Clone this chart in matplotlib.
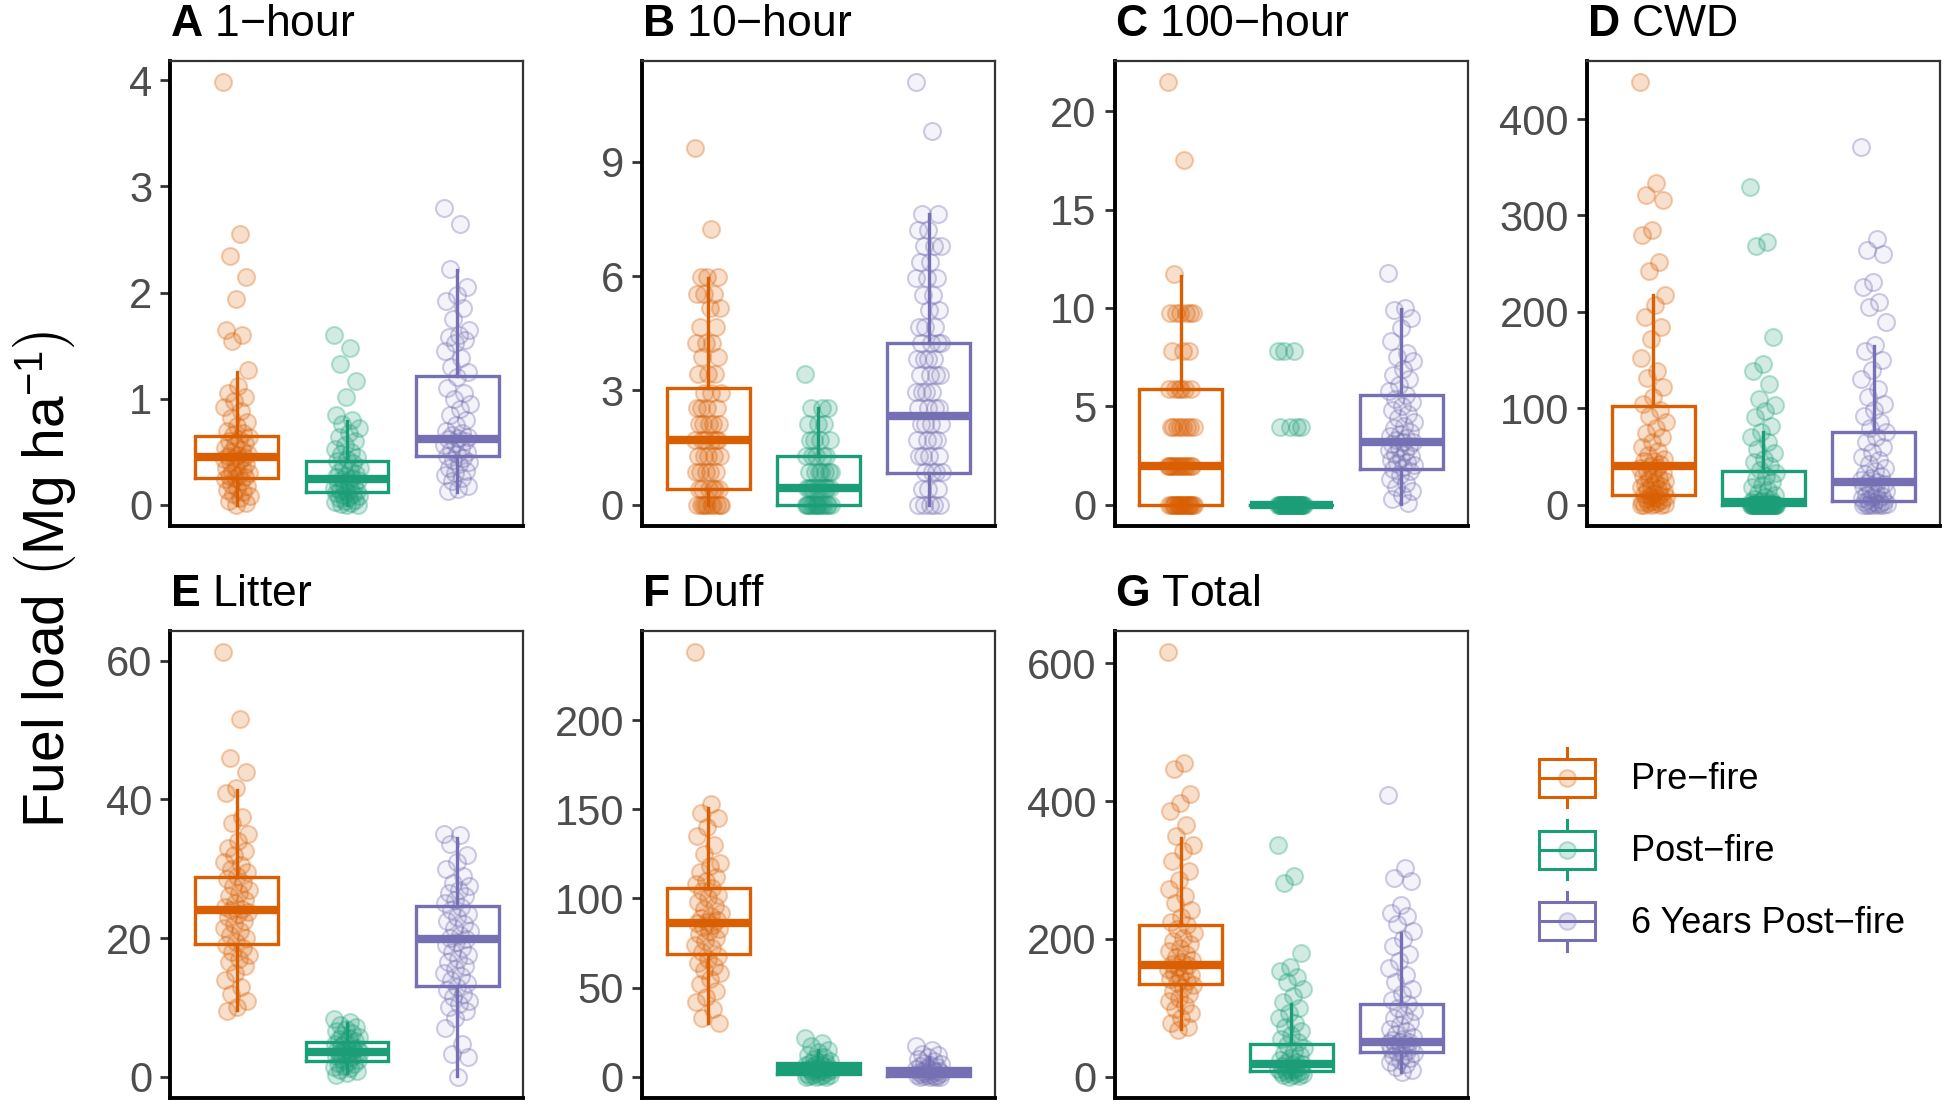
import matplotlib
matplotlib.use("Agg")
import matplotlib.pyplot as plt
import numpy as np
from matplotlib.legend_handler import HandlerBase
from matplotlib.patches import Patch, Rectangle
from matplotlib.lines import Line2D

# groups / colours
groups = ["Pre−fire", "Post−fire", "6 Years Post−fire"]
colors = ["#D95F02", "#1B9E77", "#7570B3"]

panel_letters = ["A", "B", "C", "D", "E", "F", "G"]
panel_names = ["1−hour", "10−hour", "100−hour", "CWD", "Litter", "Duff", "Total"]
panel_ticks = [[0, 1, 2, 3, 4], [0, 3, 6, 9], [0, 5, 10, 15, 20], [0, 100, 200, 300, 400],
               [0, 20, 40, 60], [0, 50, 100, 150, 200], [0, 200, 400, 600]]

# box stats per group: [whisker low, q1, median, q3, whisker high]
box_1h = [[0.0, 0.25, 0.45, 0.65, 1.25], [0.0, 0.12, 0.24, 0.41, 0.79], [0.12, 0.46, 0.62, 1.21, 2.21]]
box_10h = [[0.0, 0.42, 1.69, 3.07, 5.94], [0.0, 0.0, 0.43, 1.29, 2.55], [0.0, 0.83, 2.33, 4.24, 7.63]]
box_100h = [[0.0, 0.0, 1.95, 5.86, 11.6], [0.0, 0.0, 0.0, 0.0, 0.0], [0.06, 1.83, 3.17, 5.56, 9.95]]
box_cwd = [[0.0, 10.5, 40.0, 102.0, 217.5], [0.0, 0.0, 3.0, 34.6, 76.0], [0.0, 3.6, 24.0, 75.8, 165.0]]
box_litter = [[9.6, 19.2, 24.0, 28.8, 41.3], [0.5, 2.3, 3.6, 5.0, 7.8], [0.1, 13.1, 19.8, 24.6, 34.4]]
box_duff = [[30.0, 68.7, 86.5, 106.0, 150.7], [0.0, 1.4, 4.6, 7.7, 15.0], [0.0, 0.3, 2.9, 4.8, 11.0]]
box_total = [[70.0, 134.0, 162.0, 221.0, 347.0], [0.0, 8.7, 19.3, 47.3, 105.0], [7.0, 36.7, 51.0, 105.0, 209.0]]

# plot-level values (read from the jittered points)
one_hr_pre = [3.98, 2.55, 2.34, 2.15, 1.94, 1.65, 1.60, 1.54, 1.27, 1.12, 1.05, 1.02, 0.98, 0.92, 0.88,
              0.82, 0.78, 0.74, 0.70, 0.68, 0.66, 0.64, 0.62, 0.60, 0.58, 0.56, 0.54, 0.52, 0.50, 0.48,
              0.47, 0.46, 0.45, 0.44, 0.43, 0.42, 0.40, 0.38, 0.36, 0.35, 0.33, 0.31, 0.30, 0.28, 0.27,
              0.26, 0.25, 0.24, 0.22, 0.20, 0.18, 0.16, 0.14, 0.12, 0.10, 0.08, 0.06, 0.04, 0.02, 0.0]
one_hr_post = [1.60, 1.48, 1.33, 1.17, 1.02, 0.85, 0.80, 0.76, 0.72, 0.68, 0.64, 0.60, 0.56, 0.53, 0.50,
               0.48, 0.45, 0.43, 0.41, 0.39, 0.37, 0.35, 0.33, 0.31, 0.29, 0.27, 0.26, 0.25, 0.24, 0.23,
               0.22, 0.20, 0.19, 0.18, 0.16, 0.15, 0.14, 0.13, 0.12, 0.11, 0.10, 0.09, 0.08, 0.07, 0.06,
               0.05, 0.04, 0.03, 0.02, 0.01, 0.0, 0.0]
one_hr_6yr = [2.80, 2.65, 2.22, 2.05, 1.98, 1.92, 1.85, 1.75, 1.65, 1.60, 1.58, 1.55, 1.52, 1.45, 1.38,
              1.30, 1.25, 1.20, 1.10, 1.05, 1.00, 0.95, 0.90, 0.85, 0.80, 0.75, 0.70, 0.68, 0.66, 0.64,
              0.63, 0.62, 0.60, 0.58, 0.56, 0.54, 0.52, 0.50, 0.48, 0.46, 0.44, 0.42, 0.40, 0.38, 0.35,
              0.32, 0.30, 0.28, 0.25, 0.22, 0.18, 0.15, 0.13]

ten_hr_pre = [9.35, 7.24, 5.98, 5.98, 5.98, 5.54, 5.54, 5.54, 5.15, 5.15, 4.67, 4.67, 4.24, 4.24, 4.24,
              3.89, 3.89, 3.42, 3.42, 3.42, 2.94, 2.94, 2.94, 2.55, 2.55, 2.55, 2.55, 2.11, 2.11, 2.11,
              2.11, 2.11, 1.69, 1.69, 1.69, 1.69, 1.69, 1.69, 1.29, 1.29, 1.29, 1.29, 1.29, 0.86, 0.86,
              0.86, 0.86, 0.86, 0.42, 0.42, 0.42, 0.42, 0.42, 0.42, 0.0, 0.0, 0.0, 0.0, 0.0, 0.0, 0.0,
              0.0, 0.0, 0.0]
ten_hr_post = [3.42, 2.55, 2.55, 2.55, 2.11, 2.11, 2.11, 1.69, 1.69, 1.69, 1.69, 1.29, 1.29, 1.29, 1.29,
               1.29, 0.86, 0.86, 0.86, 0.86, 0.86, 0.86, 0.86, 0.43, 0.43, 0.43, 0.43, 0.43, 0.43, 0.43,
               0.43, 0.43, 0.43, 0.0, 0.0, 0.0, 0.0, 0.0, 0.0, 0.0, 0.0, 0.0, 0.0, 0.0, 0.0, 0.0, 0.0, 0.0]
ten_hr_6yr = [11.08, 9.80, 7.63, 7.63, 7.20, 7.20, 6.80, 6.80, 6.80, 6.37, 6.37, 5.95, 5.95, 5.95, 5.50,
              5.50, 5.10, 5.10, 4.67, 4.67, 4.67, 4.24, 4.24, 4.24, 4.24, 3.82, 3.82, 3.82, 3.82, 3.40,
              3.40, 3.40, 3.40, 2.97, 2.97, 2.97, 2.97, 2.55, 2.55, 2.55, 2.55, 2.12, 2.12, 2.12, 2.12,
              1.70, 1.70, 1.70, 1.70, 1.27, 1.27, 1.27, 1.27, 0.85, 0.85, 0.85, 0.85, 0.42, 0.42, 0.42,
              0.0, 0.0, 0.0, 0.0, 0.0]

hundred_hr_pre = [21.46, 17.5, 11.74, 9.75, 9.75, 9.75, 9.75, 9.75, 9.75, 7.8, 7.8, 7.8, 5.86, 5.86, 5.86,
                  5.86, 5.86, 5.86, 3.93, 3.93, 3.93, 3.93, 3.93, 3.93, 3.93, 3.93, 1.96, 1.96, 1.96, 1.96,
                  1.96, 1.96, 1.96, 1.96, 1.96, 1.96, 1.96, 1.96, 1.96, 1.96, 0.0, 0.0, 0.0, 0.0, 0.0, 0.0,
                  0.0, 0.0, 0.0, 0.0, 0.0, 0.0, 0.0, 0.0, 0.0, 0.0, 0.0, 0.0, 0.0, 0.0]
hundred_hr_post = [7.8, 7.8, 7.8, 3.93, 3.93, 3.93, 3.93, 0.0, 0.0, 0.0, 0.0, 0.0, 0.0, 0.0, 0.0, 0.0, 0.0,
                   0.0, 0.0, 0.0, 0.0, 0.0, 0.0, 0.0, 0.0, 0.0, 0.0, 0.0, 0.0, 0.0, 0.0, 0.0, 0.0, 0.0, 0.0,
                   0.0, 0.0, 0.0, 0.0, 0.0, 0.0]
hundred_hr_6yr = [11.8, 10.0, 9.9, 9.5, 9.0, 8.3, 7.7, 7.5, 7.3, 6.9, 6.6, 6.4, 6.1, 5.8, 5.6, 5.4, 5.2, 5.0,
                  4.8, 4.6, 4.4, 4.2, 4.0, 3.9, 3.7, 3.6, 3.5, 3.4, 3.3, 3.2, 3.2, 3.1, 3.0, 2.9, 2.8, 2.7,
                  2.6, 2.5, 2.4, 2.3, 2.2, 2.1, 2.0, 1.9, 1.8, 1.7, 1.5, 1.3, 1.1, 0.9, 0.7, 0.5, 0.3, 0.1]

cwd_pre = [438, 334, 321, 316, 285, 280, 252, 242, 218, 207, 195, 184, 172, 152, 139, 132, 122, 112, 105,
           98, 92, 86, 80, 74, 70, 65, 60, 56, 52, 48, 45, 45, 42, 40, 38, 38, 35, 33, 32, 30, 28, 27, 25,
           24, 22, 20, 19, 18, 16, 15, 14, 12, 11, 10, 9, 8, 7, 6, 5, 4, 3, 3, 2, 1, 1, 0, 0, 0, 0]
cwd_post = [330, 273, 268, 174, 146, 139, 125, 110, 104, 97, 91, 82, 76, 70, 65, 58, 54, 48, 44, 40, 36,
            33, 30, 27, 24, 21, 18, 15, 12, 10, 8, 6, 5, 4, 3, 3, 2, 2, 1, 1, 1, 0, 0, 0, 0, 0, 0, 0, 0,
            0, 0, 0, 0, 0, 0, 0, 0, 0, 0, 0, 0, 0, 0, 0, 0, 0, 0, 0, 0, 0, 0, 0, 0, 0, 0]
cwd_6yr = [371, 276, 264, 260, 231, 226, 210, 205, 190, 166, 159, 150, 140, 130, 120, 112, 105, 98, 92, 86,
           80, 75, 70, 65, 60, 55, 50, 46, 42, 38, 35, 32, 30, 28, 26, 24, 23, 22, 21, 20, 18, 16, 14, 12,
           10, 9, 8, 7, 6, 5, 4, 3, 3, 2, 2, 1, 1, 0, 0, 0, 0, 0, 0]

litter_pre = [61.2, 51.6, 45.9, 44.0, 41.6, 40.9, 37.5, 36.6, 35.0, 34.0, 33.0, 32.5, 32.0, 31.0, 30.5,
              30.0, 29.5, 29.0, 28.5, 28.0, 27.5, 27.0, 26.5, 26.0, 25.5, 25.0, 24.5, 24.2, 24.0, 23.8,
              23.5, 23.0, 22.5, 22.0, 21.5, 21.0, 20.5, 20.0, 19.5, 19.0, 18.5, 18.0, 17.5, 17.0, 16.5,
              16.0, 15.0, 14.0, 13.0, 12.0, 10.9, 10.0, 9.5]
litter_post = [8.3, 7.9, 7.5, 7.2, 6.9, 6.6, 6.3, 6.0, 5.8, 5.6, 5.4, 5.2, 5.0, 4.8, 4.6, 4.4, 4.2, 4.0,
               3.9, 3.8, 3.7, 3.6, 3.5, 3.4, 3.3, 3.2, 3.0, 2.8, 2.6, 2.4, 2.2, 2.0, 1.8, 1.6, 1.4, 1.2,
               1.0, 0.8, 0.6, 0.3]
litter_6yr = [35.0, 34.8, 33.5, 32.0, 31.0, 30.0, 29.0, 28.0, 27.5, 27.0, 26.5, 26.0, 25.5, 25.0, 24.5,
              24.0, 23.5, 23.0, 22.5, 22.0, 21.5, 21.0, 20.5, 20.0, 19.8, 19.5, 19.0, 18.5, 18.0, 17.5,
              17.0, 16.5, 16.0, 15.5, 15.0, 14.5, 14.0, 13.5, 13.0, 12.5, 12.0, 11.5, 11.0, 10.5, 10.0,
              9.5, 8.5, 7.0, 4.7, 3.3, 2.8, 0.0]

duff_pre = [238, 153, 148, 145, 140, 135, 130, 125, 120, 118, 115, 112, 110, 108, 106, 104, 102, 100, 98,
            96, 94, 92, 90, 89, 88, 87, 86, 85, 84, 83, 82, 80, 78, 76, 74, 72, 70, 68, 66, 64, 62, 60,
            58, 55, 52, 48, 45, 42, 38, 33, 30]
duff_post = [22, 19, 17, 15, 14, 12, 11, 10, 9, 8.5, 8, 7.5, 7, 6.5, 6, 5.5, 5, 4.8, 4.6, 4.4, 4.2, 4,
             3.5, 3, 2.5, 2, 1.5, 1.2, 1, 0.8, 0.5, 0.3, 0, 0, 0]
duff_6yr = [17, 15, 13, 12, 11, 10, 9, 8, 7, 6.5, 6, 5.5, 5, 4.5, 4, 3.5, 3.2, 3, 2.8, 2.5, 2.2, 2, 1.8,
            1.5, 1.2, 1, 0.8, 0.5, 0.3, 0, 0, 0, 0]

total_pre = [616, 455, 446, 411, 397, 385, 366, 350, 337, 327, 313, 298, 285, 272, 262, 252, 242, 232,
             225, 220, 214, 208, 202, 197, 192, 187, 182, 178, 174, 170, 167, 164, 162, 160, 157, 154,
             151, 148, 145, 142, 139, 136, 133, 129, 125, 120, 115, 110, 104, 98, 92, 85, 78, 72, 68]
total_post = [337, 291, 281, 179, 160, 153, 145, 137, 128, 117, 108, 100, 92, 85, 78, 72, 66, 60, 55, 50,
              46, 42, 38, 34, 31, 28, 25, 22, 20, 19, 18, 16, 14, 13, 12, 11, 10, 9, 8, 7, 6, 5, 4, 3,
              2, 1, 0]
total_6yr = [409, 303, 289, 284, 250, 238, 233, 222, 211, 200, 190, 178, 168, 158, 148, 138, 128, 120,
             112, 106, 100, 95, 90, 85, 80, 75, 70, 66, 62, 58, 55, 53, 51, 50, 49, 48, 46, 44, 42, 40,
             38, 36, 34, 32, 30, 28, 25, 22, 18, 14, 10, 7]

panel_points = [
    [one_hr_pre, one_hr_post, one_hr_6yr],
    [ten_hr_pre, ten_hr_post, ten_hr_6yr],
    [hundred_hr_pre, hundred_hr_post, hundred_hr_6yr],
    [cwd_pre, cwd_post, cwd_6yr],
    [litter_pre, litter_post, litter_6yr],
    [duff_pre, duff_post, duff_6yr],
    [total_pre, total_post, total_6yr],
]
panel_boxes = [box_1h, box_10h, box_100h, box_cwd, box_litter, box_duff, box_total]

# ---- style ----
plt.rcParams["font.family"] = ["Liberation Sans", "DejaVu Sans"]
plt.rcParams["mathtext.fontset"] = "custom"
plt.rcParams["mathtext.rm"] = "Liberation Sans"
plt.rcParams["mathtext.bf"] = "Liberation Sans:bold"
plt.rcParams["mathtext.it"] = "Liberation Sans:italic"

face_alpha = [0.2, 0.2, 0.08]
edge_alpha = [0.3, 0.3, 0.35]


class BoxKey(HandlerBase):
    # draws a small boxplot glyph as legend key
    def create_artists(self, legend, orig_handle, xdescent, ydescent, width, height, fontsize, trans):
        c = orig_handle.get_edgecolor()
        x0, y0 = -xdescent, -ydescent
        cx = x0 + width / 2
        lw = 2.2
        arts = [
            Rectangle((x0, y0 + 0.18 * height), width, 0.64 * height, fill=False,
                      edgecolor=c, lw=lw, transform=trans),
            Line2D([cx, cx], [y0, y0 + 0.18 * height], color=c, lw=lw, transform=trans),
            Line2D([cx, cx], [y0 + 0.82 * height, y0 + height], color=c, lw=lw, transform=trans),
            Line2D([x0, x0 + width], [y0 + height / 2] * 2, color=c, lw=lw, transform=trans),
            Line2D([cx], [y0 + height / 2], marker="o", ms=12, lw=0,
                   mfc=(*c[:3], 0.2), mec=(*c[:3], 0.3), mew=1.5, transform=trans),
        ]
        return arts


fig = plt.figure(figsize=(19.46, 11.04), dpi=100)

col_left = [0.0876, 0.3299, 0.5728, 0.8155]
row_bottom = [0.5236, 0.0054]
row_height = [0.4209, 0.423]
ax_width = 0.1814

for i in range(7):
    row, col = divmod(i, 4)
    ax = fig.add_axes([col_left[col], row_bottom[row], ax_width, row_height[row]])
    pts = panel_points[i]
    boxes = panel_boxes[i]

    for k in range(3):
        vals = np.array(pts[k], dtype=float)
        n = len(vals)
        jit = ((np.arange(n) * 0.618034) % 1 - 0.5) * 0.24
        c = matplotlib.colors.to_rgb(colors[k])
        ax.scatter(k + 1 + jit, vals, s=150, facecolor=(*c, face_alpha[k]),
                   edgecolor=(*c, edge_alpha[k]), linewidths=1.5, zorder=2)

        lo, q1, med, q3, hi = boxes[k]
        stats = [dict(whislo=lo, q1=q1, med=med, q3=q3, whishi=hi, fliers=[])]
        lp = dict(color=colors[k], linewidth=2.4, solid_joinstyle="miter")
        ax.bxp(stats, positions=[k + 1], widths=0.75, showfliers=False, showcaps=False,
               boxprops=lp, whiskerprops=lp,
               medianprops=dict(color=colors[k], linewidth=6.0, solid_capstyle="butt"),
               manage_ticks=False, zorder=3)

    allv = np.concatenate([np.array(p, dtype=float) for p in pts] + [np.array(boxes).ravel()])
    dmin, dmax = allv.min(), allv.max()
    pad = 0.05 * (dmax - dmin)
    ax.set_ylim(dmin - pad, dmax + pad)
    ax.set_xlim(0.4, 3.6)
    ax.set_xticks([])
    ax.set_yticks(panel_ticks[i])
    ax.set_yticklabels([str(t) for t in panel_ticks[i]])
    ax.tick_params(axis="y", direction="out", length=7, width=2, color="#333333",
                   labelsize=30, labelcolor="#4D4D4D", pad=6)
    for s in ["left", "bottom"]:
        ax.spines[s].set_linewidth(2.8)
        ax.spines[s].set_color("black")
    for s in ["top", "right"]:
        ax.spines[s].set_linewidth(1.6)
        ax.spines[s].set_color("#333333")

    ax.annotate(f"$\\mathbf{{{panel_letters[i]}}}$ {panel_names[i]}", xy=(0, 1),
                xycoords="axes fraction", xytext=(0, 18), textcoords="offset points",
                ha="left", va="baseline", fontsize=32, color="black")

fig.text(0.0231, 0.475, r"Fuel load $\left(\mathrm{Mg\ ha}^{-1}\right)$", rotation=90,
         ha="center", va="center", fontsize=41, color="black")

handles = [Patch(edgecolor=c, facecolor="none") for c in colors]
fig.legend(handles, groups, handler_map={Patch: BoxKey()}, loc="center left",
           bbox_to_anchor=(0.7909, 0.2305), frameon=False, fontsize=26,
           handlelength=1.55, handleheight=2.15, handletextpad=1.0, labelspacing=0.35,
           borderpad=0, borderaxespad=0)

fig.savefig("out.png", dpi=100)
